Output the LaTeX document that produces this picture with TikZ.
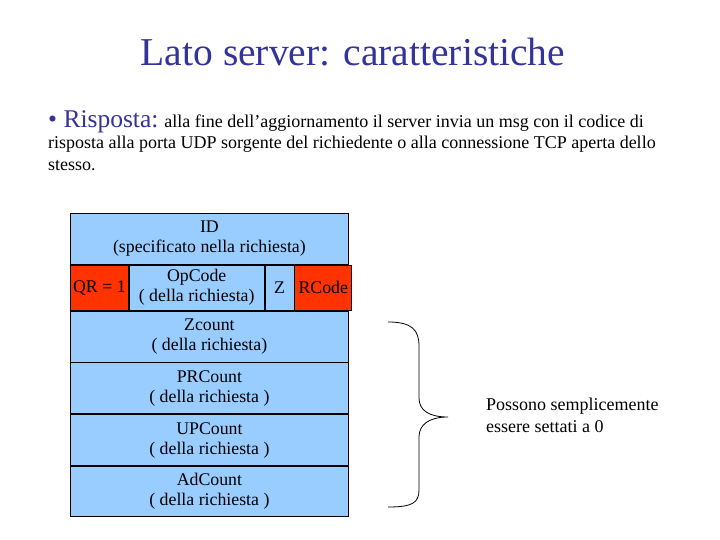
\documentclass[tikz,border=0pt]{standalone}
\usepackage{fontspec}
\setmainfont{Liberation Serif}
\usepackage{tikz}
\usetikzlibrary{positioning}
\definecolor{titleblue}{RGB}{51,51,153}
\definecolor{fieldblue}{RGB}{153,204,255}
\definecolor{fieldred}{RGB}{255,51,0}

\begin{document}
\begin{tikzpicture}[x=1pt,y=-1pt,
  field/.style={draw,line width=0.8pt,fill=fieldblue,inner sep=0pt,align=center,anchor=north west,
    font=\fontsize{17.8}{20}\selectfont},
  redfield/.style={field,fill=fieldred}]
  \useasboundingbox[fill=white] (0,0) rectangle (720,540);
  \node[titleblue,font=\fontsize{39.5}{44}\selectfont] (title) at (353,52) {Lato server: caratteristiche};
  \node[anchor=north west,align=left,inner sep=0pt,font=\fontsize{18}{21.5}\selectfont] (resp) at (48,110)
    {{\color{titleblue}\fontsize{25.5}{21.5}\selectfont • Risposta:} alla fine dell’aggiornamento il server invia un msg con il codice di\\
     risposta alla porta UDP sorgente del richiedente o alla connessione TCP aperta dello\\
     stesso.};
  \node[field,minimum width=278,minimum height=51] (id) at (70,213) {ID\\(specificato nella richiesta)};
  \node[redfield,minimum width=58,minimum height=45] (qr) at (id.south west) {QR = 1};
  \node[field,minimum width=135,minimum height=45] (opcode) at (qr.north east) {OpCode\\( della richiesta)};
  \node[field,minimum width=29,minimum height=45] (z) at (opcode.north east) {Z};
  \node[redfield,minimum width=57,minimum height=45] (rcode) at (z.north east) {RCode};
  \node[field,minimum width=278,minimum height=51] (zcount) at (qr.south west) {Zcount\\( della richiesta)};
  \node[field,minimum width=278,minimum height=51] (prcount) at (zcount.south west) {PRCount\\( della richiesta )};
  \node[field,minimum width=278,minimum height=51] (upcount) at (prcount.south west) {UPCount\\( della richiesta )};
  \node[field,minimum width=278,minimum height=50] (adcount) at (upcount.south west) {AdCount\\( della richiesta )};
  % brace
  \draw[line width=0.8pt] (388,322) .. controls (412,322) and (419,330) .. (419,346) -- (419,398)
    .. controls (419,411) and (430,417) .. (448,417) .. controls (430,417) and (419,424) .. (419,437)
    -- (419,490) .. controls (419,503) and (412,507) .. (388,507);
  \node[anchor=west,align=left,inner sep=0pt,font=\fontsize{18}{22}\selectfont] (note) at (486,415)
    {Possono semplicemente\\essere settati a 0};
\end{tikzpicture}
\end{document}
